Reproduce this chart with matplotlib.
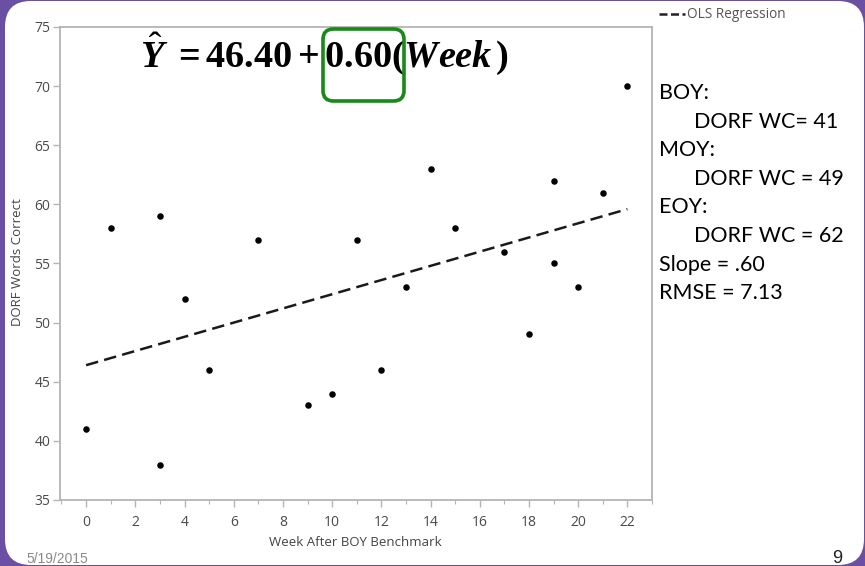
import matplotlib
matplotlib.use("Agg")
import matplotlib.pyplot as plt
import numpy as np
from matplotlib.patches import FancyBboxPatch
from matplotlib.lines import Line2D

# ---- data ----
weeks = [0, 1, 3, 3, 4, 5, 7, 9, 10, 11, 12, 13, 14, 15, 17, 18, 19, 19, 20, 21, 22]
dorf_wc = [41, 58, 59, 38, 52, 46, 57, 43, 44, 57, 46, 53, 63, 58, 56, 49, 62, 55, 53, 61, 70]
intercept = 46.40
slope = 0.60
x_ticks = [0, 2, 4, 6, 8, 10, 12, 14, 16, 18, 20, 22]
y_ticks = [35, 40, 45, 50, 55, 60, 65, 70, 75]
side_lines = ["BOY:", "DORF WC= 41", "MOY:", "DORF WC = 49", "EOY:",
              "DORF WC = 62", "Slope = .60", "RMSE = 7.13"]
side_indent = [0, 1, 0, 1, 0, 1, 0, 0]

W, H = 865, 566
plt.rcParams['mathtext.fontset'] = 'custom'
plt.rcParams['mathtext.rm'] = 'Liberation Serif'
plt.rcParams['mathtext.bf'] = 'Liberation Serif:bold'
plt.rcParams['mathtext.it'] = 'Liberation Serif:italic'
plt.rcParams['mathtext.bfit'] = 'Liberation Serif:bold:italic'

fig = plt.figure(figsize=(W / 100, H / 100), dpi=100)
fig.patch.set_facecolor('#6a4fa3')

def fx(px):
    return px / W

def fy(py):
    return 1 - py / H

# white slide with rounded corners
slide = FancyBboxPatch((fx(5), fy(565)), fx(859), 564 / H,
                       boxstyle="round,pad=0,rounding_size=0.03",
                       transform=fig.transFigure, facecolor='white',
                       edgecolor='none', zorder=-10, mutation_aspect=W / H)
fig.patches.append(slide)

ax = fig.add_axes([fx(60), fy(500), fx(652) - fx(60), fy(27) - fy(500)])
ax.set_zorder(1)
ax.set_facecolor('white')
ax.set_xlim(-1.06, 23.0)
ax.set_ylim(35, 75)

ax.scatter(weeks, dorf_wc, s=22, color='black', zorder=3, linewidths=0)
xl = np.array([min(weeks), max(weeks)])
ax.plot(xl, intercept + slope * xl, color='#1a1a1a', lw=1.8,
        dashes=(5, 2.5), zorder=2)

tick_col = '#4a4a4a'
spine_col = '#b4b4b4'
for s in ax.spines.values():
    s.set_color(spine_col)
    s.set_linewidth(1.3)
ax.set_xticks(x_ticks)
ax.set_xticks(range(-1, 24, 1), minor=True)
ax.set_yticks(y_ticks)
ax.tick_params(axis='both', colors=spine_col, labelcolor=tick_col,
               labelsize=10, length=5, width=1)
ax.tick_params(axis='x', which='minor', length=3, width=0.8, colors=spine_col)
ax.tick_params(axis='x', pad=6)
ax.tick_params(axis='y', pad=2)
for lab in ax.get_xticklabels() + ax.get_yticklabels():
    lab.set_family('Open Sans')

fig.text(fx(355), fy(543), "Week After BOY Benchmark", ha='center', va='center',
         fontsize=9.5, color='#444444', family='Open Sans')
fig.text(fx(18), fy(262), "DORF Words Correct", ha='center', va='center',
         rotation=90, fontsize=9.5, color='#444444', family='Open Sans')

# equation
fig.text(fx(140), fy(67),
         r'$\hat{\mathbfit{Y}}\ \mathbf{=46.40+0.60(}\mathbfit{Week}\,\mathbf{)}$',
         ha='left', va='baseline', fontsize=27.5, color='black', zorder=6)
box = FancyBboxPatch((fx(323), fy(101)), fx(404) - fx(323), (101 - 29) / H,
                     boxstyle="round,pad=0,rounding_size=0.012",
                     transform=fig.transFigure, facecolor='none',
                     edgecolor='#178a17', linewidth=2.6, zorder=7,
                     mutation_aspect=W / H)
fig.patches.append(box)

# legend
fig.add_artist(Line2D([fx(659), fx(685)], [fy(14), fy(14)], color='#222222',
                      lw=1.8, dashes=(3.2, 1.4), transform=fig.transFigure))
fig.text(fx(687), fy(14), "OLS Regression", ha='left', va='center',
         fontsize=9.8, color='#555555', family='Open Sans')

# side text
base = 99
for i, (t, ind) in enumerate(zip(side_lines, side_indent)):
    fig.text(fx(659 + 35 * ind), fy(base + i * 28.6), t, ha='left', va='baseline',
             fontsize=15.5, color='black', family='Lato')

fig.text(fx(26), fy(563), "5/19/2015", ha='left', va='baseline',
         fontsize=10, color='#8a8a8a', family='Liberation Sans')
fig.text(fx(842), fy(563), "9", ha='right', va='baseline',
         fontsize=13, color='#222222', family='Liberation Sans')

fig.savefig('out.png', dpi=100, facecolor=fig.get_facecolor())
